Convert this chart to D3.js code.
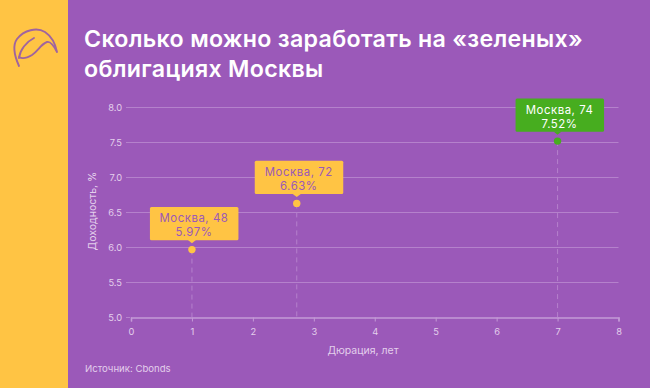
<!DOCTYPE html>
<html><head><meta charset="utf-8">
<script src="https://cdn.jsdelivr.net/npm/d3@7"></script>
<style>
html,body{margin:0;padding:0;background:#9b59b9;overflow:hidden}
text{font-family:Inter,"Noto Sans",sans-serif}
</style></head><body><svg id="c" width="650" height="388"></svg>
<script>
const titleLines = ["Сколько можно заработать на «зеленых»", "облигациях Москвы"];
const bondNames = ["Москва, 48", "Москва, 72", "Москва, 74"];
const durations = [1, 2.72, 7];
const yields = [5.97, 6.63, 7.52];
const yieldLabels = ["5.97%", "6.63%", "7.52%"];
const boxColors = ["#ffc444", "#ffc444", "#47ad1f"];
const textColors = ["#9b59b9", "#9b59b9", "#ffffff"];
const xTicks = [0, 1, 2, 3, 4, 5, 6, 7, 8];
const yTicks = [5, 5.5, 6, 6.5, 7, 7.5, 8];
const xAxisTitle = "Дюрация, лет";
const yAxisTitle = "Доходность, %";
const sourceText = "Источник: Cbonds";

const svg = d3.select("#c");
svg.append("rect").attr("width",650).attr("height",388).attr("fill","#9b59b9");
svg.append("rect").attr("width",68).attr("height",388).attr("fill","#ffc444");

// logo
svg.append("g").attr("fill","none").attr("stroke","#a0649f").attr("stroke-width",1.9)
  .attr("stroke-linecap","round").attr("stroke-linejoin","round")
  .selectAll("path").data([
    "M19 66 C15 57 12 46 17 39 C24 30 37 27 45 32 C51 36 55 42 57 52 C54 46 51 41 47 42 C41 44 38 51 32 55 C27 58 22 59 19 57",
    "M34 38 C26 42 20 50 19 58"
  ]).join("path").attr("d",d=>d);

// title
svg.append("g").selectAll("text").data(titleLines).join("text")
  .attr("x",84).attr("y",(d,i)=>47+i*30)
  .attr("fill","#fff").attr("font-size",23.2).attr("font-weight",600).attr("letter-spacing",0.3).text(d=>d);

const x = d3.scaleLinear().domain([0,8]).range([131,618.5]);
const y = d3.scaleLinear().domain([5,8]).range([317.5,107.5]);
const grid = "#b581cc";

// y grid
svg.append("g").selectAll("line").data(yTicks.filter(d=>d>5)).join("line")
  .attr("x1",126).attr("x2",x(8)).attr("y1",d=>y(d)).attr("y2",d=>y(d))
  .attr("stroke",grid).attr("stroke-width",1);
svg.append("line").attr("x1",126).attr("x2",130).attr("y1",y(5)).attr("y2",y(5)).attr("stroke",grid);

// x axis
const xAxis = d3.axisBottom(x).tickValues(xTicks).tickFormat(d3.format("d")).tickSize(4).tickPadding(7);
const gx = svg.append("g").attr("transform",`translate(0,${y(5)})`).call(xAxis);
gx.select(".domain").attr("stroke","#c49ad6").attr("stroke-width",1.6);
gx.selectAll(".tick line").attr("stroke","#c49ad6");
gx.selectAll("text").attr("fill","#e3cfec").attr("font-size",9.3).attr("font-family","Inter,sans-serif");

// y tick labels
svg.append("g").selectAll("text").data(yTicks).join("text")
  .attr("x",122).attr("y",d=>y(d)+3).attr("text-anchor","end")
  .attr("fill","#e3cfec").attr("font-size",9.3).text(d=>d3.format(".1f")(d));

// axis titles
svg.append("text").attr("x",363).attr("y",354).attr("text-anchor","middle")
  .attr("fill","#e3cfec").attr("font-size",10.5).text(xAxisTitle);
svg.append("text").attr("transform","translate(95.5,211) rotate(-90)").attr("text-anchor","middle")
  .attr("fill","#e3cfec").attr("font-size",10.5).text(yAxisTitle);
svg.append("text").attr("x",85).attr("y",372)
  .attr("fill","#e3cfec").attr("font-size",9.6).text(sourceText);

// points
const idx = d3.range(bondNames.length);
svg.append("g").selectAll("line").data(idx).join("line")
  .attr("x1",i=>x(durations[i])).attr("x2",i=>x(durations[i]))
  .attr("y1",i=>y(yields[i])).attr("y2",y(5))
  .attr("stroke",grid).attr("stroke-dasharray","5 4").attr("stroke-width",1);

const g = svg.append("g").selectAll("g").data(idx).join("g")
  .attr("transform",i=>`translate(${x(durations[i])},${y(yields[i])})`);
g.append("circle").attr("r",3.7).attr("fill",i=>boxColors[i]);
g.append("path").attr("d","M-4 -9.5 L0 -6.3 L4 -9.5 Z").attr("fill",i=>boxColors[i]);
g.append("rect").attr("x",-42).attr("y",-42.6).attr("width",88.5).attr("height",33.3).attr("rx",1.5)
  .attr("fill",i=>boxColors[i]);
const label = g.append("text").attr("text-anchor","middle").attr("font-size",11.4)
  .attr("letter-spacing",0.55).attr("fill",i=>textColors[i]);
label.append("tspan").attr("x",2).attr("y",-27.2).text(i=>bondNames[i]);
label.append("tspan").attr("x",2).attr("y",-13.2).text(i=>yieldLabels[i]);
</script></body></html>
